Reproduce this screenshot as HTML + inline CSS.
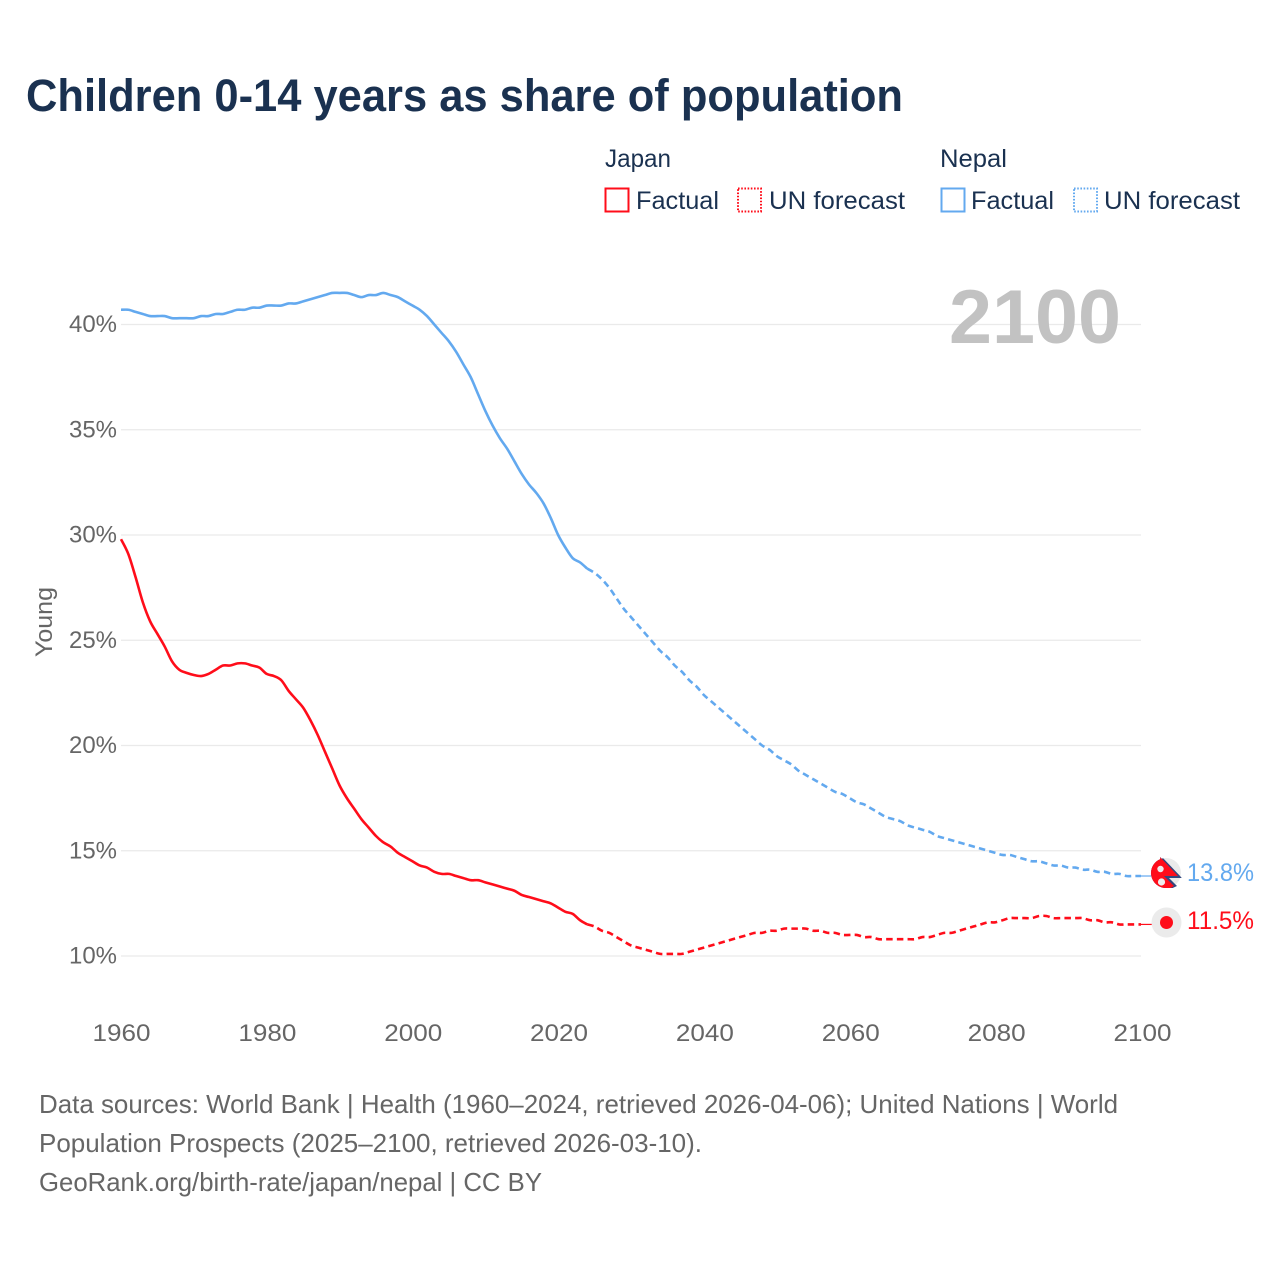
<!DOCTYPE html>
<html lang="en">
<head>
<meta charset="utf-8">
<title>Children 0-14 years as share of population</title>
<style>
html,body{margin:0;padding:0;background:#fff;}
svg{display:block;font-family:"Liberation Sans",sans-serif;}
</style>
</head>
<body>
<svg id="chart" xmlns="http://www.w3.org/2000/svg" width="1280" height="1280" viewBox="0 0 1280 1280">
  <rect width="1280" height="1280" fill="#fff"/>
  <text x="26" y="111" font-size="45" font-weight="700" fill="#1a3150" textLength="877" lengthAdjust="spacingAndGlyphs">Children 0-14 years as share of population</text>

  <g font-size="25" fill="#1a3150">
    <text x="605" y="167" textLength="66" lengthAdjust="spacingAndGlyphs">Japan</text>
    <rect x="605.5" y="188.5" width="23" height="23" fill="none" stroke="#ff0d1a" stroke-width="2"/>
    <text x="636" y="209" textLength="83" lengthAdjust="spacingAndGlyphs">Factual</text>
    <rect x="738" y="188.5" width="23" height="23" fill="none" stroke="#ff0d1a" stroke-width="2" stroke-dasharray="1.6 1.6"/>
    <text x="769" y="209" textLength="136" lengthAdjust="spacingAndGlyphs">UN forecast</text>
    <text x="940" y="167" textLength="67" lengthAdjust="spacingAndGlyphs">Nepal</text>
    <rect x="941.5" y="188.5" width="23" height="23" fill="none" stroke="#63a9ef" stroke-width="2"/>
    <text x="971" y="209" textLength="83" lengthAdjust="spacingAndGlyphs">Factual</text>
    <rect x="1074" y="188.5" width="23" height="23" fill="none" stroke="#63a9ef" stroke-width="2" stroke-dasharray="1.6 1.6"/>
    <text x="1104" y="209" textLength="136" lengthAdjust="spacingAndGlyphs">UN forecast</text>
  </g>

  <g id="grid"></g>
  <text id="yearLabel" x="949" y="343" font-size="76" font-weight="700" fill="#c2c2c2" textLength="172" lengthAdjust="spacingAndGlyphs"></text>
  <g id="yticks" font-size="24.5" fill="#666"></g>
  <g id="xticks" font-size="24.5" fill="#666"></g>
  <text transform="translate(52 622) rotate(-90)" text-anchor="middle" font-size="24.5" fill="#666" textLength="70" lengthAdjust="spacingAndGlyphs">Young</text>
  <g id="series"></g>

  <g id="markers">
    <defs>
      <clipPath id="nepalClip">
        <circle cx="1166" cy="873" r="15"/>
        <polygon points="1160,857 1184,880 1177,888 1164,888"/>
      </clipPath>
    </defs>
    <circle id="nepalDisc" cx="1166" cy="873" r="15" fill="#ebebeb"/>
    <g id="nepalFlag" clip-path="url(#nepalClip)">
      <polygon points="1162,857 1182,878 1169,878 1177,886 1164,892 1150,890 1150,857" fill="#33487e"/>
      <polygon points="1160,857 1178,876 1164,876 1174,886 1164,892 1148,890 1148,857" fill="#ff0d1a"/>
      <circle cx="1160.500" cy="869" r="3.200" fill="#eee"/>
      <circle cx="1161.500" cy="882" r="3.600" fill="#eee"/>
    </g>
    <circle id="japanDisc" cx="1166.500" cy="922.500" r="15" fill="#ebebeb"/>
    <circle id="japanDot" cx="1166.500" cy="922.500" r="6.500" fill="#ff0d1a"/>
  </g>
  <text id="nepalValue" x="1187" y="881" font-size="25" fill="#63a9ef" textLength="67" lengthAdjust="spacingAndGlyphs"></text>
  <text id="japanValue" x="1187" y="929" font-size="25" fill="#ff0d1a" textLength="67" lengthAdjust="spacingAndGlyphs"></text>

  <g font-size="26" fill="#666">
    <text x="39" y="1113" textLength="1079" lengthAdjust="spacingAndGlyphs">Data sources: World Bank | Health (1960–2024, retrieved 2026-04-06); United Nations | World</text>
    <text x="39" y="1152" textLength="663" lengthAdjust="spacingAndGlyphs">Population Prospects (2025–2100, retrieved 2026-03-10).</text>
    <text x="39" y="1191" textLength="503" lengthAdjust="spacingAndGlyphs">GeoRank.org/birth-rate/japan/nepal | CC BY</text>
  </g>
</svg>
<script>
const years = [1960,1961,1962,1963,1964,1965,1966,1967,1968,1969,1970,1971,1972,1973,1974,1975,1976,1977,1978,1979,
1980,1981,1982,1983,1984,1985,1986,1987,1988,1989,1990,1991,1992,1993,1994,1995,1996,1997,1998,1999,
2000,2001,2002,2003,2004,2005,2006,2007,2008,2009,2010,2011,2012,2013,2014,2015,2016,2017,2018,2019,
2020,2021,2022,2023,2024,2025,2026,2027,2028,2029,2030,2031,2032,2033,2034,2035,2036,2037,2038,2039,
2040,2041,2042,2043,2044,2045,2046,2047,2048,2049,2050,2051,2052,2053,2054,2055,2056,2057,2058,2059,
2060,2061,2062,2063,2064,2065,2066,2067,2068,2069,2070,2071,2072,2073,2074,2075,2076,2077,2078,2079,
2080,2081,2082,2083,2084,2085,2086,2087,2088,2089,2090,2091,2092,2093,2094,2095,2096,2097,2098,2099,2100];
const japanShare = [29.8,29.1,28.0,26.8,25.9,25.3,24.7,24.0,23.6,23.45,23.35,23.3,23.4,23.6,23.8,23.8,23.9,23.9,23.8,23.7,
23.4,23.3,23.1,22.6,22.2,21.8,21.2,20.5,19.7,18.9,18.1,17.5,17.0,16.5,16.1,15.7,15.4,15.2,14.9,14.7,
14.5,14.3,14.2,14.0,13.9,13.9,13.8,13.7,13.6,13.6,13.5,13.4,13.3,13.2,13.1,12.9,12.8,12.7,12.6,12.5,
12.3,12.1,12.0,11.7,11.5,11.4,11.2,11.1,10.9,10.7,10.5,10.4,10.3,10.2,10.1,10.1,10.1,10.1,10.2,10.3,
10.4,10.5,10.6,10.7,10.8,10.9,11.0,11.1,11.1,11.2,11.2,11.3,11.3,11.3,11.3,11.2,11.2,11.1,11.1,11.0,
11.0,11.0,10.9,10.9,10.8,10.8,10.8,10.8,10.8,10.8,10.9,10.9,11.0,11.1,11.1,11.2,11.3,11.4,11.5,11.6,
11.6,11.7,11.8,11.8,11.8,11.8,11.9,11.9,11.8,11.8,11.8,11.8,11.8,11.7,11.7,11.6,11.6,11.5,11.5,11.5,11.5];
const nepalShare = [40.7,40.7,40.6,40.5,40.4,40.4,40.4,40.3,40.3,40.3,40.3,40.4,40.4,40.5,40.5,40.6,40.7,40.7,40.8,40.8,
40.9,40.9,40.9,41.0,41.0,41.1,41.2,41.3,41.4,41.5,41.5,41.5,41.4,41.3,41.4,41.4,41.5,41.4,41.3,41.1,
40.9,40.7,40.4,40.0,39.6,39.2,38.7,38.1,37.5,36.7,35.9,35.2,34.6,34.1,33.5,32.9,32.4,32.0,31.5,30.8,
30.0,29.4,28.9,28.7,28.4,28.2,27.9,27.5,27.0,26.5,26.1,25.7,25.3,24.9,24.5,24.2,23.8,23.5,23.1,22.8,
22.4,22.1,21.8,21.5,21.2,20.9,20.6,20.3,20.0,19.8,19.5,19.3,19.1,18.8,18.6,18.4,18.2,18.0,17.8,17.7,
17.5,17.3,17.2,17.0,16.8,16.6,16.5,16.4,16.2,16.1,16.0,15.9,15.7,15.6,15.5,15.4,15.3,15.2,15.1,15.0,
14.9,14.8,14.8,14.7,14.6,14.5,14.5,14.4,14.3,14.3,14.2,14.2,14.1,14.1,14.0,14.0,13.9,13.9,13.8,13.8,13.8];
const lastFactualYear = 2024;
const yTickValues = [10,15,20,25,30,35,40];
const yTickLabels = ["10%","15%","20%","25%","30%","35%","40%"];
const xTickValues = [1960,1980,2000,2020,2040,2060,2080,2100];
const xTickLabels = ["1960","1980","2000","2020","2040","2060","2080","2100"];

const NS = "http://www.w3.org/2000/svg";
const RED = "#ff0d1a", BLUE = "#63a9ef";
function xScale(year){ return 121 + (year - 1960) * (1020 / 140); }
function xLabelScale(year){ return 121.5 + (year - 1960) * (1021 / 140); }
function yScale(v){ return 956 - (v - 10) * (631.5 / 30); }
function make(tag, parent, attrs){
  const el = document.createElementNS(NS, tag);
  for (const k in attrs) el.setAttribute(k, attrs[k]);
  parent.appendChild(el);
  return el;
}
function linePath(values, from, to){
  const pts = [];
  years.forEach(function(y, i){
    if (y >= from && y <= to) pts.push([xScale(y), yScale(values[i])]);
  });
  let d = "M" + pts[0][0].toFixed(2) + " " + pts[0][1].toFixed(2);
  for (let i = 0; i < pts.length - 1; i++){
    const p0 = pts[Math.max(i - 1, 0)], p1 = pts[i], p2 = pts[i + 1], p3 = pts[Math.min(i + 2, pts.length - 1)];
    const c1x = p1[0] + (p2[0] - p0[0]) / 6, c1y = p1[1] + (p2[1] - p0[1]) / 6;
    const c2x = p2[0] - (p3[0] - p1[0]) / 6, c2y = p2[1] - (p3[1] - p1[1]) / 6;
    d += "C" + c1x.toFixed(2) + " " + c1y.toFixed(2) + " " + c2x.toFixed(2) + " " + c2y.toFixed(2) + " " + p2[0].toFixed(2) + " " + p2[1].toFixed(2);
  }
  return d;
}

const gridG = document.getElementById("grid");
const yG = document.getElementById("yticks");
yTickValues.forEach(function(v, i){
  const ln = make("line", gridG, {x1:121, x2:1141, y1:yScale(v), y2:yScale(v), stroke:"#eaeaea", "stroke-width":1.3});
  
  
  const t = make("text", yG, {x:117, y:yScale(v)+7.5, "text-anchor":"end", textLength:48, lengthAdjust:"spacingAndGlyphs"});
  
  
  t.textContent = yTickLabels[i];
});
const xG = document.getElementById("xticks");
xTickValues.forEach(function(v, i){
  const t = make("text", xG, {x:xLabelScale(v), y:1041, "text-anchor":"middle", textLength:58, lengthAdjust:"spacingAndGlyphs"});
  
  
  t.textContent = xTickLabels[i];
});

const seriesG = document.getElementById("series");
const endYear = years[years.length - 1];
const base = {fill:"none", "stroke-width":2.6, "stroke-linejoin":"round"};

const nepalFact = make("path", seriesG, Object.assign({d:linePath(nepalShare, years[0], lastFactualYear), stroke:BLUE}, base));


const nepalFore = make("path", seriesG, Object.assign({d:linePath(nepalShare, lastFactualYear, endYear), stroke:BLUE, "stroke-dasharray":"6.5 4.2"}, base));


const japanFact = make("path", seriesG, Object.assign({d:linePath(japanShare, years[0], lastFactualYear), stroke:RED}, base));


const japanFore = make("path", seriesG, Object.assign({d:linePath(japanShare, lastFactualYear, endYear), stroke:RED, "stroke-dasharray":"6.5 4.2"}, base));



const lastNepal = nepalShare[nepalShare.length - 1];
const lastJapan = japanShare[japanShare.length - 1];
const nepalLead = make("line", seriesG, {x1:xScale(endYear), x2:1153, y1:yScale(lastNepal), y2:yScale(lastNepal), stroke:BLUE, "stroke-width":1.2});


const japanLead = make("line", seriesG, {x1:xScale(endYear), x2:1153, y1:yScale(lastJapan), y2:yScale(lastJapan), stroke:RED, "stroke-width":1.2});



document.getElementById("yearLabel").textContent = String(endYear);
document.getElementById("nepalValue").textContent = lastNepal.toFixed(1) + "%";
document.getElementById("japanValue").textContent = lastJapan.toFixed(1) + "%";
</script>
</body>
</html>
